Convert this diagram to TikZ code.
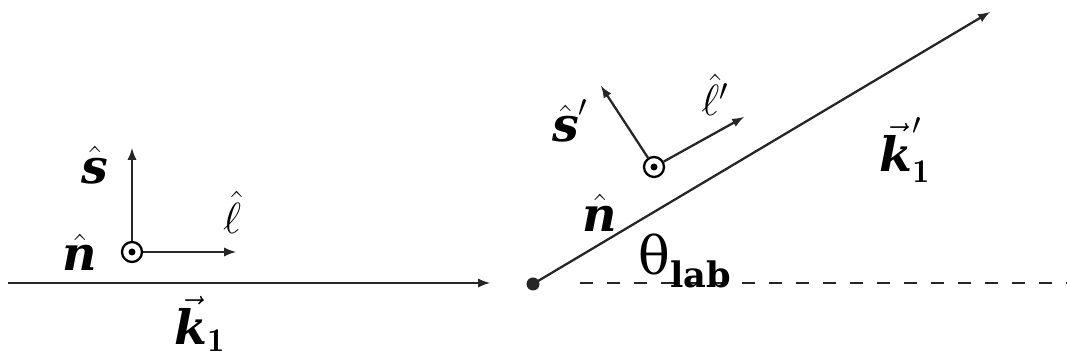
\documentclass[tikz,border=0pt]{standalone}
\usepackage{tikz}
\usetikzlibrary{arrows, positioning, calc}
\usepackage{amsmath}
\usepackage{fontspec}
\newfontfamily\timesfont{DejaVu Serif}
\newcommand{\bivec}[1]{\text{\timesfont\bfseries\itshape #1}}

\begin{document}
\begin{tikzpicture}[
        font=\fontsize{27}{32}\selectfont,
        vec/.style={-latex, line width=1.3pt, black!85},
        odot/.style={circle, draw, line width=1.3pt, minimum size=0.4cm, inner sep=0pt,
            path picture={\fill (path picture bounding box.center) circle (0.07);}},
        target/.style={circle, fill=black!85, minimum size=0.26cm, inner sep=0pt},
        lbl/.style={inner sep=0pt}
    ]
        \useasboundingbox (0,0) rectangle (21.34,7.2);

        % incoming beam
        \coordinate (beamstart) at (0.16,1.54);
        \coordinate (beamend) at (9.8,1.54);
        \node[odot] (spin) at (2.64,2.16) {};
        \coordinate (stip) at (2.64,4.24);
        \coordinate (ltip) at (4.72,2.16);

        \draw[vec] (beamstart) -- (beamend);
        \draw[vec] (spin) -- (stip);
        \draw[vec] (spin) -- (ltip);

        \node[lbl] (slab) at (1.9,3.9) {$\hat{\bivec{s}}$};
        \node[lbl] (llab) at (4.64,2.95) {$\hat{\ell}$};
        \node[lbl] (nlab) at (1.6,2.15) {$\hat{\bivec{n}}$};
        \node[lbl] (klab) at (4.0,0.72) {$\vec{\bivec{k}}_{\mathbf{1}}$};

        % scattered beam
        \node[target] (tgt) at (10.66,1.52) {};
        \coordinate (kptip) at (19.8,6.96);
        \coordinate (dashstart) at (11.6,1.54);
        \coordinate (dashend) at (21.34,1.54);
        \node[odot] (spinp) at (13.08,3.86) {};
        \coordinate (sptip) at (12.02,5.48);
        \coordinate (lptip) at (14.88,4.86);

        \draw[vec] (tgt.center) -- (kptip);
        \draw[line width=1.3pt, black!85, dash pattern=on 0.26cm off 0.28cm] (dashstart) -- (dashend);
        \draw[vec] (spinp) -- (sptip);
        \draw[vec] (spinp) -- (lptip);

        \node[lbl] (splab) at (11.4,4.78) {$\hat{\bivec{s}}'$};
        \node[lbl] (lplab) at (14.3,5.3) {$\hat{\ell}'$};
        \node[lbl] (nplab) at (12.0,2.94) {$\hat{\bivec{n}}$};
        \node[lbl] (thlab) at (13.7,1.98) {\timesfont\fontsize{30}{36}\selectfont θ\raisebox{-0.25em}{\fontsize{20}{24}\selectfont\textbf{lab}}};
        \node[lbl] (kplab) at (18.1,4.2) {$\vec{\bivec{k}}'_{\mathbf{1}}$};
    \end{tikzpicture}
\end{document}
